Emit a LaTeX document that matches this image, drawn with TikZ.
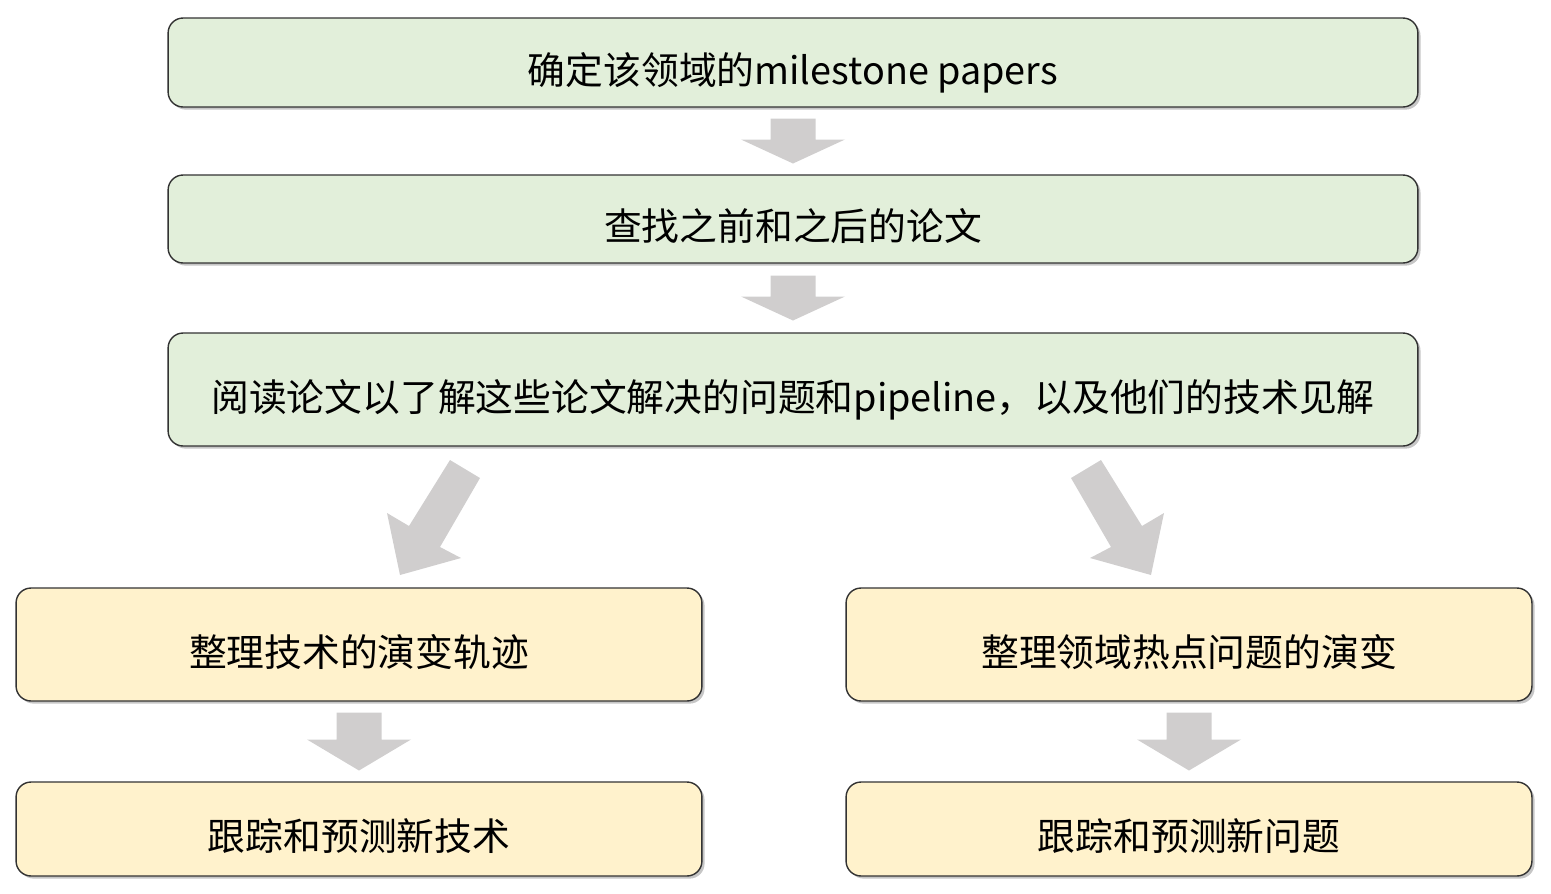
\documentclass[tikz,border=0pt]{standalone}
\usepackage{fontspec}
\setmainfont{Noto Sans CJK SC}
\usetikzlibrary{calc,shadows}
\definecolor{stepgreen}{RGB}{226,239,218}
\definecolor{stepyellow}{RGB}{255,242,204}
\definecolor{arrowgray}{RGB}{208,206,206}
\tikzset{
  stepbox/.style={draw=black!80, line width=0.8pt, rounded corners=0.3cm,
    minimum height=#1, inner sep=0pt, font=\fontsize{21.5}{25}\selectfont,
    text height=28pt, text depth=3pt,
    drop shadow={shadow xshift=1.5pt, shadow yshift=-1.5pt, opacity=0.45}},
  widebox/.style={stepbox=#1, fill=stepgreen, minimum width=25cm},
  halfbox/.style={stepbox=#1, fill=stepyellow, minimum width=13.72cm},
  pics/blockdown/.style 2 args={code={
    \fill[arrowgray] (-22.5,{-#1/2}) -- (22.5,{-#1/2}) -- (22.5,{#1/2-#2})
      -- (52,{#1/2-#2}) -- (0,{#1/2}) -- (-52,{#1/2-#2})
      -- (-22.5,{#1/2-#2}) -- cycle;
  }}
}
\begin{document}
\begin{tikzpicture}[x=0.02cm, y=-0.02cm]
  \useasboundingbox (0,0) rectangle (1551,893);
  % steps in the main line
  \node[widebox=1.78cm] (find) at (793,62.5) {确定该领域的milestone papers};
  \node[widebox=1.76cm] (search) at (793,219) {查找之前和之后的论文};
  \node[widebox=2.26cm] (read) at (793,389.5) {阅读论文以了解这些论文解决的问题和pipeline，以及他们的技术见解};
  % two branches
  \node[halfbox=2.26cm] (techtrace) at (359,644.5) {整理技术的演变轨迹};
  \node[halfbox=2.26cm] (probtrace) at (1189,644.5) {整理领域热点问题的演变};
  \node[halfbox=1.88cm] (technew) at (359,829) {跟踪和预测新技术};
  \node[halfbox=1.88cm] (probnew) at (1189,829) {跟踪和预测新问题};
  % block arrows between the boxes
  \pic at ($(find.south)!0.5!(search.north)$) {blockdown={45}{24}};
  \pic at ($(search.south)!0.5!(read.north)$) {blockdown={45}{24}};
  \pic at ($(techtrace.south)!0.5!(technew.north)$) {blockdown={58}{31}};
  \pic at ($(probtrace.south)!0.5!(probnew.north)$) {blockdown={58}{31}};
  \fill[arrowgray] (450,460) -- (480,478) -- (440,547) -- (461,558)
    -- (400,575) -- (387,513) -- (409,526) -- cycle;
  \fill[arrowgray] (1101,460) -- (1071,478) -- (1111,547) -- (1090,558)
    -- (1151,575) -- (1164,513) -- (1142,526) -- cycle;
\end{tikzpicture}
\end{document}
